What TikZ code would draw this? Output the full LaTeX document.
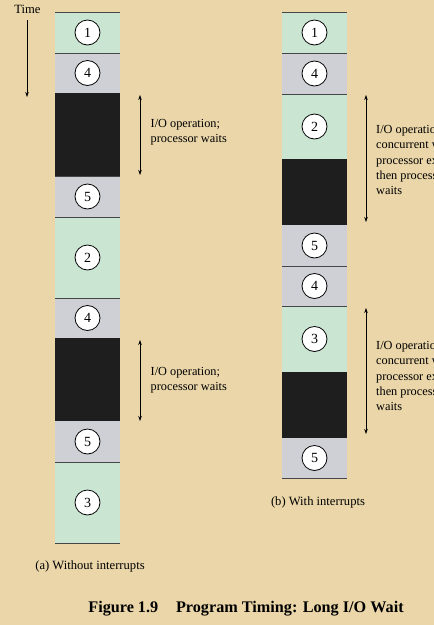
\documentclass[tikz,border=0pt]{standalone}
\usepackage{fontspec}
\setmainfont{Liberation Serif}
\usetikzlibrary{arrows.meta}
\definecolor{bg}{RGB}{234,214,168}
\definecolor{grn}{RGB}{203,229,211}
\definecolor{gry}{RGB}{206,208,213}
\definecolor{blk}{RGB}{30,30,30}
\definecolor{seam}{RGB}{70,70,70}
\begin{document}
\begin{tikzpicture}[x=1pt,y=-1pt,
  seg/.style={rectangle,minimum width=65pt,inner sep=0pt,outer sep=0pt,anchor=north west},
  num/.style={circle,draw=black,fill=white,line width=0.8pt,minimum size=25pt,inner sep=0pt,font=\fontsize{14}{14}\selectfont},
  seamline/.style={draw=seam,line width=0.9pt},
  spanarrow/.style={{Stealth[length=5pt,width=3.5pt]}-{Stealth[length=5pt,width=3.5pt]},line width=0.6pt},
  lbl/.style={anchor=west,align=left,inner sep=0pt,font=\fontsize{12.3}{15.4}\selectfont},
  captext/.style={inner sep=0pt,font=\fontsize{12.6}{14}\selectfont}]
\useasboundingbox (0,0) rectangle (434,625);
\clip (0,0) rectangle (434,625);
\fill[bg] (0,0) rectangle (434,625);

% ---------- column (a)
\node[seg,fill=grn,minimum height=41pt] (a1) at (55,12) {};
\node[seg,fill=gry,minimum height=40pt] (a2) at (55,53) {};
\node[seg,fill=blk,minimum height=83pt] (a3) at (55,93) {};
\node[seg,fill=gry,minimum height=41pt] (a4) at (55,176) {};
\node[seg,fill=grn,minimum height=81pt] (a5) at (55,217) {};
\node[seg,fill=gry,minimum height=40pt] (a6) at (55,298) {};
\node[seg,fill=blk,minimum height=83pt] (a7) at (55,338) {};
\node[seg,fill=gry,minimum height=41pt] (a8) at (55,421) {};
\node[seg,fill=grn,minimum height=81pt] (a9) at (55,462) {};
\draw[seamline] (a1.north west) -- (a1.north east);
\foreach \s in {a2,a4,a5,a6,a9}{\draw[seamline] (\s.north west) -- (\s.north east);}
\draw[seamline] (a9.south west) -- (a9.south east);
\node[num] (na1) at (a1) {1};
\node[num] (na2) at (a2) {4};
\node[num] (na4) at (a4) {5};
\node[num] (na5) at (a5) {2};
\node[num] (na6) at (a6) {4};
\node[num] (na8) at (a8) {5};
\node[num] (na9) at (a9) {3};

% ---------- column (b)
\node[seg,fill=grn,minimum height=41pt] (b1) at (282,12) {};
\node[seg,fill=gry,minimum height=41pt] (b2) at (282,53) {};
\node[seg,fill=grn,minimum height=65pt] (b3) at (282,94) {};
\node[seg,fill=blk,minimum height=66pt] (b4) at (282,159) {};
\node[seg,fill=gry,minimum height=41pt] (b5) at (282,225) {};
\node[seg,fill=gry,minimum height=40pt] (b6) at (282,266) {};
\node[seg,fill=grn,minimum height=66pt] (b7) at (282,306) {};
\node[seg,fill=blk,minimum height=66pt] (b8) at (282,372) {};
\node[seg,fill=gry,minimum height=40pt] (b9) at (282,438) {};
\draw[seamline] (b1.north west) -- (b1.north east);
\foreach \s in {b2,b3,b6,b7}{\draw[seamline] (\s.north west) -- (\s.north east);}
\draw[seamline] (b9.south west) -- (b9.south east);
\node[num] (nb1) at (b1) {1};
\node[num] (nb2) at (b2) {4};
\node[num] (nb3) at (b3) {2};
\node[num] (nb5) at (b5) {5};
\node[num] (nb6) at (b6) {4};
\node[num] (nb7) at (b7) {3};
\node[num] (nb9) at (b9) {5};

% ---------- time arrow
\node[captext] (time) at (27.5,9) {Time};
\coordinate (t1) at (27,20);
\coordinate (t2) at (27,97);
\draw[-{Stealth[length=5pt,width=3.5pt]},line width=0.6pt] (t1) -- (t2);

% ---------- spans (a)
\coordinate (sa1) at (140,95);  \coordinate (sa2) at (140,175);
\coordinate (sa3) at (140,340); \coordinate (sa4) at (140,421);
\draw[spanarrow] (sa1) -- (sa2);
\draw[spanarrow] (sa3) -- (sa4);
\node[lbl] (la1) at (150.5,132.5) {I/O operation;\\processor waits};
\node[lbl] (la2) at (150.5,380.5) {I/O operation;\\processor waits};

% ---------- spans (b)
\coordinate (sb1) at (366,95);  \coordinate (sb2) at (366,222);
\coordinate (sb3) at (366,308); \coordinate (sb4) at (366,434);
\draw[spanarrow] (sb1) -- (sb2);
\draw[spanarrow] (sb3) -- (sb4);
\node[lbl] (lb1) at (376,160) {I/O operation;\\concurrent with\\processor executing;\\then processor\\waits};
\node[lbl] (lb2) at (376,376) {I/O operation;\\concurrent with\\processor executing;\\then processor\\waits};

% ---------- captions
\node[captext] (capa) at (90,566) {(a) Without interrupts};
\node[captext] (capb) at (318,502) {(b) With interrupts};
\node[inner sep=0pt,font=\fontsize{16.2}{18}\selectfont\bfseries] (fig) at (246,609) {Figure 1.9\hspace{1.1em}Program Timing: Long I/O Wait};
\end{tikzpicture}
\end{document}
